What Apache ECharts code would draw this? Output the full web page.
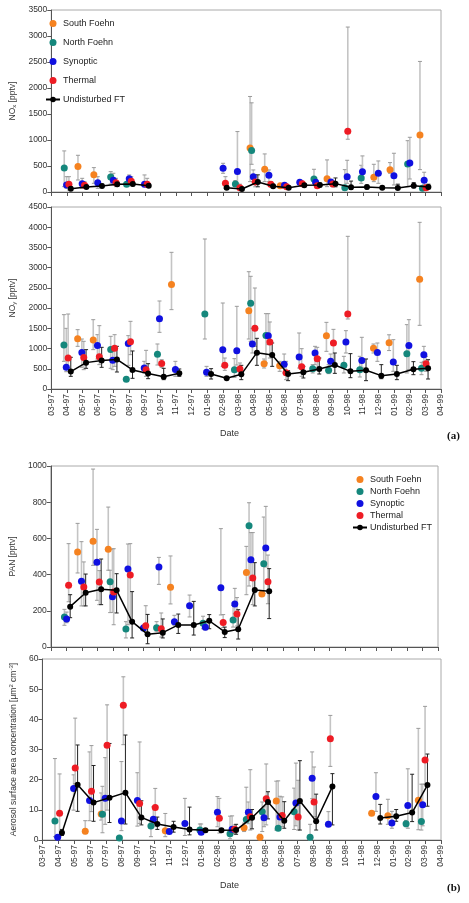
<!DOCTYPE html>
<html>
<head>
<meta charset="utf-8">
<script src="https://cdn.jsdelivr.net/npm/echarts@6/dist/echarts.min.js"></script>
<style>
html,body{margin:0;padding:0;background:#fff;}
#chart{width:469px;height:903px;}
</style>
</head>
<body>
<div id="chart"></div>
<script>
// month index 0 = 03-97 ... 25 = 04-99
var dateLabels = ['03-97','04-97','05-97','06-97','07-97','08-97','09-97','10-97','11-97','12-97',
	'01-98','02-98','03-98','04-98','05-98','06-98','07-98','08-98','09-98','10-98','11-98','12-98',
	'01-99','02-99','03-99','04-99'];
var typeNames = ['South Foehn','North Foehn','Synoptic','Thermal'];
var ftName = 'Undisturbed FT';

// rows: [month, value, low, high]
// NOx
var noxSouth = [[1.71,488,231,706],[2.73,330,167,469],[12.75,848,199,1837],[13.69,437,199,732],[14.69,122,100,150],
	[17.69,257,103,617],[20.69,282,199,533],[21.73,429,360,565],[23.65,1096,430,2511]];
var noxNorth = [[0.83,462,103,790],[3.81,288,154,392],[4.83,148,120,180],[11.81,154,110,220],[12.85,796,533,1715],
	[16.85,250,167,437],[18.83,83,60,430],[19.88,269,167,514],[22.86,539,102,987],[23.81,71,50,100]];
var noxSyn = [[0.98,135,71,295],[1.98,161,71,263],[2.98,180,71,295],[3.98,225,135,360],[5.0,256,167,328],[5.98,150,103,328],
	[11.02,456,360,552],[11.94,392,167,1162],[12.96,295,199,424],[13.96,320,199,424],[14.96,128,90,170],[15.94,186,150,220],
	[16.96,186,150,230],[17.94,193,150,240],[18.98,294,167,610],[19.96,391,231,694],[20.98,359,167,597],[21.98,314,135,745],
	[23.0,560,250,1052],[23.92,225,135,380]];
var noxThermal = [[1.13,150,39,295],[2.13,128,90,200],[4.15,180,103,263],[5.13,206,120,295],[6.15,148,100,263],
	[11.17,167,71,295],[12.1,83,50,150],[13.08,190,100,328],[14.08,148,100,200],[15.1,103,70,140],[16.1,161,110,210],
	[17.06,122,90,160],[18.06,154,100,220],[19.02,1169,1015,3172],[24.04,83,60,110]];
var noxFT = [[1.25,64,40,100],[2.25,96,70,130],[3.25,116,85,150],[4.23,148,110,190],[5.23,154,120,200],[6.25,122,95,160],
	[8.7,null,null,null],
	[11.25,83,50,120],[12.23,58,30,90],[13.25,193,100,330],[14.23,109,80,150],[15.23,83,60,110],[16.23,128,100,160],
	[17.23,135,100,170],[18.23,161,100,270],[19.23,90,50,210],[20.25,96,60,130],[21.23,83,60,110],[22.23,77,50,150],
	[23.25,122,80,180],[24.19,96,60,150]];

// NOy
var noySouth = [[1.69,1245,1055,1467],[2.69,1211,973,1714],[7.71,2585,1962,3379],[12.67,1937,1236,2900],[13.65,626,519,742],
	[14.65,577,437,684],[17.65,1319,931,1648],[20.67,1010,890,1113],[21.67,1145,950,1340],[23.63,2711,1574,4121]];
var noyNorth = [[0.81,1088,684,1838],[3.81,975,511,1302],[4.81,239,200,280],[6.81,857,593,1113],[9.85,1854,1236,3709],
	[11.75,478,288,750],[12.79,2118,1179,2786],[13.77,1320,643,1863],[16.77,503,396,602],[17.79,462,380,600],
	[18.77,585,396,808],[19.79,478,297,808],[22.81,870,396,1591],[23.75,510,354,659]];
var noySyn = [[0.96,536,428,1500],[1.96,905,536,1236],[2.96,1075,742,1343],[3.94,709,478,1055],[4.94,1122,585,1319],
	[5.96,519,396,684],[6.94,1735,1401,2176],[7.96,484,313,684],[9.96,412,313,560],[11.0,973,560,2126],[11.9,948,593,2044],
	[12.9,1113,890,1500],[13.92,1319,1096,1863],[14.94,610,396,865],[15.9,791,519,1385],[16.92,890,602,1055],
	[17.92,684,560,865],[18.9,1162,890,1442],[19.92,707,536,1278],[20.92,903,684,1137],[21.94,668,437,1220],
	[22.94,1078,478,1714],[23.9,848,684,1055]];
var noyThermal = [[1.08,766,519,1854],[2.08,780,478,1179],[3.08,796,602,1566],[4.06,1010,560,1343],[5.08,1170,849,1673],
	[6.08,478,313,956],[7.08,633,536,725],[11.13,585,462,766],[12.1,495,396,643],[13.06,1500,1055,2497],[14.02,1162,766,1657],
	[15.06,404,231,684],[16.06,552,313,997],[17.06,750,478,1030],[18.1,1137,684,1475],[19.02,1854,1731,3775],[24.04,626,437,808]];
var noyFT = [[1.25,430,313,783],[2.23,652,511,973],[3.23,702,536,1030],[4.21,730,420,1055],[5.21,470,264,940],
	[6.21,381,255,626],[7.21,305,231,511],[8.21,387,313,495],
	[9.2,null,null,null],
	[10.25,371,247,503],[11.25,264,240,290],[12.19,363,231,585],[13.19,898,585,1253],[14.17,841,560,1137],
	[15.19,371,206,453],[16.17,412,272,560],[17.19,495,371,766],[18.19,593,387,890],[19.19,437,280,874],
	[20.19,462,206,742],[21.17,330,255,602],[22.17,371,231,585],[23.23,487,354,676],[24.17,511,247,725]];

// PAN
var panSouth = [[1.73,525,409,683],[2.73,584,451,983],[3.71,540,424,773],[7.73,330,238,503],[12.63,411,289,556],[13.63,293,283,303]];
var panNorth = [[0.88,166,120,208],[3.83,361,190,424],[4.85,100,50,140],[6.83,107,87,140],[9.83,131,101,170],
	[11.77,149,110,230],[12.8,670,337,797],[13.75,460,295,718]];
var panSyn = [[1.02,155,134,193],[1.98,363,227,582],[2.98,468,258,650],[3.98,278,191,541],[4.98,431,123,569],
	[5.98,105,90,120],[6.98,442,346,495],[7.98,140,120,175],[8.96,228,166,287],[9.98,109,95,125],[10.98,328,177,654],
	[11.88,238,184,324],[12.92,482,368,632],[13.88,547,442,777]];
var panThermal = [[1.15,341,250,571],[2.13,331,227,470],[3.13,359,234,422],[4.06,304,123,543],[5.13,398,147,571],
	[6.13,118,87,228],[7.13,101,55,188],[11.13,136,107,179],[12.02,182,116,273],[13.04,381,234,632],[14.02,361,239,508]];
var panFT = [[1.25,223,162,289],[2.25,300,227,403],[3.25,319,234,486],[4.25,313,188,405],[5.25,140,50,306],
	[6.25,70,18,180],[7.23,79,50,155],[8.23,122,75,182],[9.23,122,66,252],[10.23,145,101,179],[11.23,83,52,110],
	[12.1,98,44,206],[13.17,315,227,466],[14.1,308,157,433]];

// aerosol surface area
var aerSouth = [[2.69,2.9,2.1,6.4],[3.69,8.6,6.6,15.6],[7.71,3.1,1.1,8.8],[12.65,4.1,2.8,5.6],[13.65,0.9,0.2,1.9],
	[14.67,12.9,3.3,19.5],[20.65,8.9,8.9,8.9],[21.67,8.0,5.2,13.5],[23.58,13.2,3.4,37.0]];
var aerNorth = [[0.79,6.3,1.1,27.0],[3.77,8.5,2.4,17.8],[4.83,0.7,0.5,0.9],[6.81,4.6,1.1,6.0],[9.88,3.3,2.4,5.3],
	[11.77,2.1,0.4,7.9],[12.79,6.8,5.7,17.5],[13.79,9.4,2.8,12.6],[14.79,3.9,3.2,19.6],[15.79,9.4,3.5,17.2],
	[16.79,0.9,0,5.2],[22.81,5.4,4.4,6.5],[23.77,6.1,3.3,18.5]];
var aerSyn = [[0.96,0.9,0.6,1.2],[1.96,17.1,9.9,21.6],[2.96,13.1,6.4,29.2],[3.94,13.8,5.2,27.3],[4.96,6.3,3.1,26.0],
	[5.96,13.1,4.6,22.3],[6.96,6.9,4.4,11.0],[7.96,2.8,2.3,3.3],[8.94,5.5,1.5,13.8],[9.96,2.6,2.1,5.3],
	[10.98,9.2,4.4,14.4],[11.9,3.6,2.2,8.0],[12.92,9.2,5.4,12.6],[13.9,7.4,4.4,11.0],[14.9,7.6,4.4,14.5],
	[15.9,12.3,4.7,25.5],[16.92,20.5,13.7,29.2],[17.94,5.2,4.5,9.4],[20.92,14.4,9.5,22.3],[21.92,5.6,3.9,9.5],
	[22.92,11.4,3.9,23.6],[23.85,11.7,4.7,18.5]];
var aerThermal = [[1.08,8.9,1.1,21.9],[2.06,23.9,18.7,40.4],[3.08,16.2,9.4,31.3],[4.06,31.4,9.9,44.8],[5.08,44.7,31.6,54.1],
	[6.1,12.1,5.5,32.5],[7.08,10.8,5.4,17.1],[11.1,7.2,2.3,13.8],[12.06,3.6,2.1,5.0],[13.04,7.7,3.3,23.3],
	[14.04,13.7,5.0,25.2],[15.04,8.1,4.4,14.3],[16.04,7.6,3.3,19.8],[17.04,12.6,7.7,24.2],[18.06,33.6,24.4,41.3],
	[24.0,26.5,18.5,44.3]];
var aerFT = [[1.23,2.4,1.5,3.5],[2.21,18.3,9.5,31.5],[3.21,12.4,6.2,24.7],[4.21,14.0,5.8,32.0],[5.21,15.7,5.3,34.8],
	[6.21,7.5,5.0,13.0],[7.21,5.3,3.5,7.6],[8.23,4.3,2.6,6.2],[9.23,3.5,1.7,10.9],[10.23,3.2,2.6,3.8],
	[11.23,3.2,2.6,3.8],[12.15,3.3,1.9,5.2],[13.15,7.4,3.7,10.1],[14.15,12.6,7.0,16.0],[15.17,6.4,3.9,12.7],
	[16.15,12.9,3.3,26.3],[17.17,6.2,3.3,15.2],[18.19,17.7,5.0,22.0],
	[19.7,null,null,null],
	[21.19,7.3,5.3,11.8],[22.19,7.9,6.2,10.1],[23.19,9.1,6.1,21.8],[24.15,18.2,11.2,28.5]];

var typeColors = ['#f58220','#15877c','#1010e0','#ee1c24'];
var FONT = 'Liberation Sans, Arial, sans-serif';

function errBar(stroke, width, capColor){
	return function(params, api){
		var x = api.value(0), lo = api.value(1), hi = api.value(2);
		if (isNaN(lo) || isNaN(hi) || hi - lo <= 0) return;
		var a = api.coord([x, hi]), b = api.coord([x, lo]);
		var c = 2;
		return {type:'group', children:[
			{type:'line', shape:{x1:a[0],y1:a[1],x2:b[0],y2:b[1]}, style:{stroke:stroke, lineWidth:width}},
			{type:'line', shape:{x1:a[0]-c,y1:a[1],x2:a[0]+c,y2:a[1]}, style:{stroke:capColor, lineWidth:1}},
			{type:'line', shape:{x1:b[0]-c,y1:b[1],x2:b[0]+c,y2:b[1]}, style:{stroke:capColor, lineWidth:1}}
		]};
	};
}

function panelSeries(idx, groups, ft){
	var out = [];
	groups.forEach(function(rows){
		out.push({
			type:'custom', xAxisIndex:idx, yAxisIndex:idx, z:1, silent:true,
			renderItem: errBar('#c4c4c4', 1.6, '#9a9a9a'),
			encode:{x:0, y:[1,2]},
			data: rows.map(function(r){ return [r[0], r[2], r[3]]; })
		});
	});
	out.push({
		type:'custom', xAxisIndex:idx, yAxisIndex:idx, z:2, silent:true,
		renderItem: errBar('#222', 1, '#222'),
		encode:{x:0, y:[1,2]},
		data: ft.filter(function(r){ return r[1] != null; }).map(function(r){ return [r[0], r[2], r[3]]; })
	});
	groups.forEach(function(rows, k){
		out.push({
			name: typeNames[k], type:'scatter', xAxisIndex:idx, yAxisIndex:idx, z:3,
			symbolSize:7, itemStyle:{color:typeColors[k], opacity:1},
			data: rows.map(function(r){ return [r[0], r[1]]; })
		});
	});
	out.push({
		name: ftName, type:'line', xAxisIndex:idx, yAxisIndex:idx, z:4,
		symbol:'circle', symbolSize:6, showSymbol:true,
		lineStyle:{color:'#000', width:1.5}, itemStyle:{color:'#000'},
		data: ft.map(function(r){ return r[1] == null ? [r[0], '-'] : [r[0], r[1]]; })
	});
	return out;
}

function xAxisCfg(idx, showLabel){
	return {
		type:'value', gridIndex:idx, min:0, max:25, interval:1,
		axisLine:{onZero:false, lineStyle:{color:'#555'}},
		axisTick:{show:true, length:4, lineStyle:{color:'#555'}},
		splitLine:{show:false},
		axisLabel:{show:showLabel, rotate:90, fontSize:8.5, color:'#333', fontFamily:FONT, margin:5,
			formatter:function(v){ return dateLabels[Math.round(v)]; }}
	};
}

function yAxisCfg(idx, max, step, name, gap){
	return {
		type:'value', gridIndex:idx, min:0, max:max, interval:step,
		name:name, nameLocation:'middle', nameGap:gap, nameRotate:90,
		nameTextStyle:{fontSize:8.5, color:'#333', fontFamily:FONT,
			rich:{sub:{fontSize:6, verticalAlign:'bottom', padding:[4,0,0,0], color:'#333', fontFamily:FONT},
				sup:{fontSize:6, verticalAlign:'top', padding:[0,0,5,0], color:'#333', fontFamily:FONT},
				n:{fontSize:8.5, color:'#333', fontFamily:FONT}}},
		axisLine:{show:true, lineStyle:{color:'#555'}},
		axisTick:{show:true, length:4, lineStyle:{color:'#555'}},
		splitLine:{show:false},
		axisLabel:{fontSize:8.5, color:'#333', fontFamily:FONT, margin:4,
			formatter:function(v){ return String(v); }}
	};
}

var chart = echarts.init(document.getElementById('chart'), null, {renderer:'canvas'});

var legendData = typeNames.concat([ftName]);

var option = {
	animation:false,
	backgroundColor:'#fff',
	grid:[
		{left:41, right:28, top:10, height:182, show:true, borderColor:'#aaa', borderWidth:1},
		{left:41, right:28, top:207, height:182, show:true, borderColor:'#aaa', borderWidth:1},
		{left:41, right:31, top:466, height:181, show:true, borderColor:'#aaa', borderWidth:1},
		{left:41, right:28, top:659, height:181, show:true, borderColor:'#aaa', borderWidth:1}
	],
	xAxis:[xAxisCfg(0,false), xAxisCfg(1,true), xAxisCfg(2,false), xAxisCfg(3,true)],
	yAxis:[
		yAxisCfg(0, 3500, 500, '{n|NO}{sub|x}{n| [pptv]}', 31),
		yAxisCfg(1, 4500, 500, '{n|NO}{sub|y}{n| [pptv]}', 31),
		yAxisCfg(2, 1000, 200, 'PAN [pptv]', 31),
		yAxisCfg(3, 60, 10, '{n|Aerosol surface area concentration [\u03bcm}{sup|2}{n| cm}{sup|-3}{n|]}', 20)
	],
	legend:[
		{data:legendData, orient:'vertical', left:40, top:14, itemWidth:14, itemHeight:7, itemGap:10,
			textStyle:{fontSize:9, color:'#222', fontFamily:FONT, padding:[0,0,0,-2]}},
		{data:legendData, orient:'vertical', left:347, top:470, itemWidth:14, itemHeight:7, itemGap:3,
			textStyle:{fontSize:9, color:'#222', fontFamily:FONT, padding:[0,0,0,-2]}}
	],
	graphic:[
		{type:'text', left:220, top:429, style:{text:'Date', fontSize:9, fill:'#333', fontFamily:FONT}},
		{type:'text', left:447, top:431, style:{text:'(a)', fontSize:11, fontWeight:'bold', fill:'#111', fontFamily:'Liberation Serif, Times New Roman, serif'}},
		{type:'text', left:220, top:881, style:{text:'Date', fontSize:9, fill:'#333', fontFamily:FONT}},
		{type:'text', left:447, top:883, style:{text:'(b)', fontSize:11, fontWeight:'bold', fill:'#111', fontFamily:'Liberation Serif, Times New Roman, serif'}}
	],
	series: [].concat(
		panelSeries(0, [noxSouth, noxNorth, noxSyn, noxThermal], noxFT),
		panelSeries(1, [noySouth, noyNorth, noySyn, noyThermal], noyFT),
		panelSeries(2, [panSouth, panNorth, panSyn, panThermal], panFT),
		panelSeries(3, [aerSouth, aerNorth, aerSyn, aerThermal], aerFT)
	)
};

chart.setOption(option);
</script>
</body>
</html>
